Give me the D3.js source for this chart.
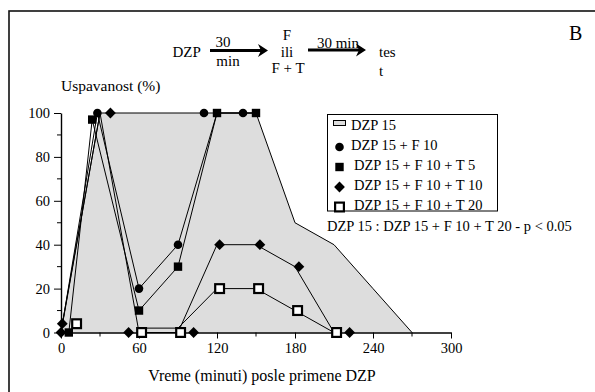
<!DOCTYPE html>
<html>
<head>
<meta charset="utf-8">
<script src="https://cdn.jsdelivr.net/npm/d3@7"></script>
<style>
  html, body { margin: 0; padding: 0; background: #fff; }
  #chart text { font-family: "Liberation Serif", "Times New Roman", serif; }
</style>
</head>
<body>
<svg id="chart" width="595" height="392"></svg>
<script>
// Time after DZP (minutes) and sleep rate (%) for each treatment group.
const dzp15Area = [[0, 0], [30, 100], [60, 100], [90, 100], [120, 100], [150, 100], [180, 50], [210, 40], [240, 20], [270, 0]];

const f10Line  = [[0, 0], [28, 100], [60, 20], [90, 40], [120, 100], [150, 100]];
const f10Marks = [[28, 100], [60, 20], [90, 40], [110, 100], [140, 100]];

const t5Line  = [[6, 0], [24, 97], [60, 10], [90, 30], [120, 100], [150, 100]];
const t5Marks = [[6, 0], [24, 97], [60, 10], [90, 30], [120, 100], [150, 100]];

const t10Line  = [[1, 4], [30, 100], [60, 0], [90, 0], [120, 40], [150, 40], [180, 30], [210, 0]];
const t10Marks = [[0, 0], [1, 4], [38, 100], [52, 0], [102, 0], [122, 40], [153, 40], [183, 30], [222, 0]];

const t20Line  = [[60, 2], [90, 2], [120, 20], [150, 20], [180, 10], [210, 0]];
const t20Marks = [[12, 4], [62, 0], [92, 0], [122, 20], [152, 20], [182, 10], [212, 0]];

const xTickLabels = [0, 60, 120, 180, 240, 300];
const xMinorTicks = [30, 90, 150, 210, 270];
const yTickLabels = [0, 20, 40, 60, 80, 100];
const yMinorTicks = [10, 30, 50, 70, 90];

const legendLabels = ["DZP 15", "DZP 15 + F 10", "DZP 15 + F 10 + T 5", "DZP 15 + F 10 + T 10", "DZP 15 + F 10 + T 20"];
const legendKinds  = ["area", "circle", "square", "diamond", "open"];
const statNote = "DZP 15 : DZP 15 + F 10 + T 20 - p < 0.05";

const SERIF = "'Liberation Serif', 'Times New Roman', serif";
const svg = d3.select("#chart");

// outer frame
svg.append("rect")
  .attr("x", 9).attr("y", 11).attr("width", 620).attr("height", 420)
  .attr("fill", "none").attr("stroke", "#111").attr("stroke-width", 1.6);

const x = d3.scaleLinear().domain([0, 300]).range([61, 451]);
const y = d3.scaleLinear().domain([0, 100]).range([332.5, 113]);

// shaded DZP 15 region
svg.append("path")
  .datum(dzp15Area)
  .attr("d", d3.line().x(d => x(d[0])).y(d => y(d[1])))
  .attr("fill", "#dddddd").attr("stroke", "#000").attr("stroke-width", 1);

// axes
const xAxis = svg.append("g").attr("transform", `translate(0,${y(0)})`);
xAxis.call(d3.axisBottom(x).tickValues(xTickLabels).tickSize(6).tickSizeOuter(0).tickPadding(4));
xAxis.append("g").selectAll("line").data(xMinorTicks).join("line")
  .attr("x1", d => x(d)).attr("x2", d => x(d)).attr("y1", 0).attr("y2", 4)
  .attr("stroke", "#000");
const yAxis = svg.append("g").attr("transform", `translate(${x(0)},0)`);
yAxis.call(d3.axisLeft(y).tickValues(yTickLabels).tickSize(7).tickSizeOuter(0).tickPadding(4));
yAxis.append("g").selectAll("line").data(yMinorTicks).join("line")
  .attr("y1", d => y(d)).attr("y2", d => y(d)).attr("x1", 0).attr("x2", -4)
  .attr("stroke", "#000");
[xAxis, yAxis].forEach(g => g.attr("font-family", SERIF).attr("font-size", "14.5px"));
svg.selectAll(".domain").attr("stroke", "#000").attr("stroke-width", 1.4);
svg.selectAll(".tick line").attr("stroke", "#000");
svg.selectAll(".tick text").attr("fill", "#000").style("font-family", SERIF);

// axis titles
svg.append("text").attr("x", 262).attr("y", 381).attr("text-anchor", "middle")
  .attr("font-size", "16px").text("Vreme (minuti) posle primene DZP");
svg.append("text").attr("x", 61).attr("y", 91)
  .attr("font-size", "15.5px").text("Uspavanost (%)");

// series lines
const line = d3.line().x(d => x(d[0])).y(d => y(d[1]));
[f10Line, t5Line, t10Line, t20Line].forEach(pts => {
  svg.append("path").datum(pts).attr("d", line)
    .attr("fill", "none").attr("stroke", "#000").attr("stroke-width", 1);
});

// marker shapes
function drawMarker(g, kind, cx, cy) {
  if (kind === "circle") {
    g.append("circle").attr("cx", cx).attr("cy", cy).attr("r", 4.3).attr("fill", "#000");
  } else if (kind === "square") {
    g.append("rect").attr("x", cx - 4.2).attr("y", cy - 4.2).attr("width", 8.4).attr("height", 8.4).attr("fill", "#000");
  } else if (kind === "diamond") {
    const r = 5.4;
    g.append("path").attr("d", `M${cx},${cy - r}L${cx + r},${cy}L${cx},${cy + r}L${cx - r},${cy}Z`).attr("fill", "#000");
  } else if (kind === "open") {
    g.append("rect").attr("x", cx - 4.4).attr("y", cy - 4.4).attr("width", 8.8).attr("height", 8.8)
      .attr("fill", "#fff").attr("stroke", "#000").attr("stroke-width", 2.2);
  } else if (kind === "area") {
    g.append("rect").attr("x", cx - 6).attr("y", cy - 2.5).attr("width", 12).attr("height", 5)
      .attr("fill", "#dddddd").attr("stroke", "#000").attr("stroke-width", 1);
  }
}

const marks = svg.append("g");
[[f10Marks, "circle"], [t5Marks, "square"], [t10Marks, "diamond"], [t20Marks, "open"]].forEach(([pts, kind]) => {
  pts.forEach(p => drawMarker(marks, kind, x(p[0]), y(p[1])));
});

// legend
const legend = svg.append("g");
legend.append("rect").attr("x", 327.5).attr("y", 114.5).attr("width", 170).attr("height", 96.5)
  .attr("fill", "#fff").attr("stroke", "#000").attr("stroke-width", 1);
legendLabels.forEach((label, i) => {
  const cy = 125 + i * 20;
  drawMarker(legend, legendKinds[i], 339.5, cy + (i === 0 ? -2 : 2));
  legend.append("text").attr("x", i < 2 ? 351 : 354).attr("y", cy + 5)
    .attr("font-size", "14.5px").text(label);
});
svg.append("text").attr("x", 327).attr("y", 231).attr("font-size", "14.5px").text(statNote);

// treatment scheme above the plot
const scheme = svg.append("g").attr("font-size", "15px");
scheme.append("text").attr("x", 172.5).attr("y", 57).text("DZP");
scheme.append("text").attr("x", 223).attr("y", 47).attr("text-anchor", "middle").text("30");
scheme.append("text").attr("x", 228).attr("y", 66).attr("text-anchor", "middle").text("min");
scheme.append("text").attr("x", 287).attr("y", 40).attr("text-anchor", "middle").text("F");
scheme.append("text").attr("x", 287).attr("y", 57).attr("text-anchor", "middle").text("ili");
scheme.append("text").attr("x", 288).attr("y", 73).attr("text-anchor", "middle").text("F + T");
scheme.append("text").attr("x", 338).attr("y", 48).attr("text-anchor", "middle").text("30 min");
scheme.append("text").attr("x", 379).attr("y", 57).text("tes");
scheme.append("text").attr("x", 379).attr("y", 76).text("t");
svg.append("text").attr("x", 569).attr("y", 40).attr("font-size", "20px").text("B");

function arrow(x1, x2, yy) {
  scheme.append("line").attr("x1", x1).attr("x2", x2 - 6).attr("y1", yy).attr("y2", yy)
    .attr("stroke", "#000").attr("stroke-width", 3);
  scheme.append("path").attr("d", `M${x2 - 10},${yy - 6.5}L${x2},${yy}L${x2 - 10},${yy + 6.5}L${x2 - 7},${yy}Z`).attr("fill", "#000");
}
arrow(210, 268, 50.5);
arrow(308, 366, 50);
</script>
</body>
</html>
